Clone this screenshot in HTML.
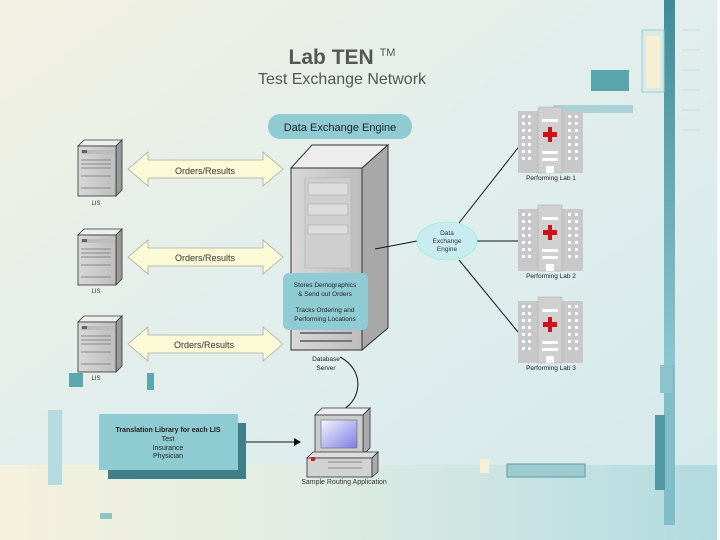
<!DOCTYPE html>
<html><head><style>
html,body{margin:0;padding:0;width:720px;height:540px;overflow:hidden;background:#fff}
svg{display:block}
text{font-family:"Liberation Sans",sans-serif}
</style></head><body>
<svg width="720" height="540" viewBox="0 0 720 540">
<defs>
<linearGradient id="bg" x1="0" y1="0" x2="1" y2="1">
<stop offset="0" stop-color="#f3f1e3"/><stop offset="0.45" stop-color="#e2eeec"/><stop offset="1" stop-color="#d4e9ec"/></linearGradient>
<linearGradient id="band" x1="0" y1="0" x2="1" y2="0">
<stop offset="0" stop-color="#f5f1dc"/><stop offset="0.4" stop-color="#e3ede4"/><stop offset="1" stop-color="#b3dbe0"/></linearGradient>
<linearGradient id="srv" x1="0" y1="0" x2="1" y2="0">
<stop offset="0" stop-color="#d8d8d8"/><stop offset="1" stop-color="#bdbdbd"/></linearGradient>
<linearGradient id="scr" x1="0" y1="0" x2="1" y2="1">
<stop offset="0" stop-color="#f4f4ff"/><stop offset="1" stop-color="#7c7ee0"/></linearGradient>
<linearGradient id="vbar" x1="0" y1="0" x2="0" y2="1">
<stop offset="0" stop-color="#3f8c98"/><stop offset="1" stop-color="#8cc7cf"/></linearGradient>
<g id="lis">
<polygon points="0,6 6,0 44,0 38,6" fill="#eee" stroke="#333" stroke-width="0.8"/>
<polygon points="38,6 44,0 44,50 38,56" fill="#999" stroke="#333" stroke-width="0.8"/>
<rect x="0" y="6" width="38" height="50" fill="url(#srv)" stroke="#333" stroke-width="0.8"/>
<rect x="3" y="10" width="32" height="4" fill="#bbb"/><rect x="4" y="10" width="5" height="3" fill="#665"/>
<line x1="3" y1="20" x2="33" y2="20" stroke="#888"/><line x1="3" y1="24" x2="33" y2="24" stroke="#888"/>
<line x1="3" y1="28" x2="33" y2="28" stroke="#888"/><line x1="3" y1="36" x2="33" y2="36" stroke="#888"/>
<line x1="3" y1="48" x2="33" y2="48" stroke="#888"/>
</g>
<g id="arr">
<polygon points="0,17 20,0 20,8 135,8 135,0 155,17 135,34 135,26 20,26 20,34" fill="#fafad6" stroke="#aaa" stroke-width="0.8"/>
</g>
<g id="lab">
<rect x="0" y="0" width="65" height="62" fill="#c8c8c8"/>
<rect x="20" y="-4" width="24" height="66" fill="#d0d0d0" stroke="#aaa" stroke-width="0.5"/>
<g fill="#fff">
<rect x="4" y="4" width="3" height="3"/><rect x="10" y="4" width="3" height="3"/><rect x="4" y="11" width="3" height="3"/><rect x="10" y="11" width="3" height="3"/><rect x="4" y="18" width="3" height="3"/><rect x="10" y="18" width="3" height="3"/><rect x="4" y="25" width="3" height="3"/><rect x="10" y="25" width="3" height="3"/><rect x="4" y="32" width="3" height="3"/><rect x="10" y="32" width="3" height="3"/><rect x="4" y="39" width="3" height="3"/><rect x="10" y="39" width="3" height="3"/><rect x="4" y="46" width="3" height="3"/><rect x="10" y="46" width="3" height="3"/>
<rect x="50" y="4" width="3" height="3"/><rect x="57" y="4" width="3" height="3"/><rect x="50" y="11" width="3" height="3"/><rect x="57" y="11" width="3" height="3"/><rect x="50" y="18" width="3" height="3"/><rect x="57" y="18" width="3" height="3"/><rect x="50" y="25" width="3" height="3"/><rect x="57" y="25" width="3" height="3"/><rect x="50" y="32" width="3" height="3"/><rect x="57" y="32" width="3" height="3"/><rect x="50" y="39" width="3" height="3"/><rect x="57" y="39" width="3" height="3"/><rect x="50" y="46" width="3" height="3"/><rect x="57" y="46" width="3" height="3"/>
<rect x="24" y="8" width="16" height="3"/><rect x="24" y="40" width="16" height="3"/><rect x="24" y="47" width="16" height="3"/>
<rect x="28" y="55" width="8" height="7"/></g>
<rect x="30" y="16" width="4" height="15" fill="#d0111a"/><rect x="25" y="21" width="14" height="5" fill="#d0111a"/>
</g>
</defs>
<rect width="720" height="540" fill="url(#bg)"/>
<rect x="0" y="465" width="717" height="75" fill="url(#band)"/>
<rect x="717" y="0" width="3" height="540" fill="#fff"/>
<rect x="664" y="0" width="11" height="365" fill="url(#vbar)"/>
<rect x="664" y="365" width="11" height="160" fill="#7fbec7"/>
<rect x="655" y="415" width="10" height="75" fill="#4f9aa5"/>
<rect x="660" y="365" width="12" height="28" fill="#8bc4cc"/>
<rect x="642" y="30" width="22" height="62" fill="#d9ebe8" stroke="#9cc" stroke-width="1"/>
<g fill="#f5f0d4"><rect x="646" y="36" width="14" height="52"/></g>
<rect x="591" y="70" width="38" height="21" fill="#5aa4ad"/>
<rect x="553" y="105" width="80" height="8" fill="#9cc9cf" opacity="0.8"/>
<g stroke="#c5dede" stroke-width="1"><line x1="682" y1="30" x2="700" y2="30"/><line x1="682" y1="50" x2="700" y2="50"/><line x1="682" y1="70" x2="700" y2="70"/><line x1="682" y1="90" x2="700" y2="90"/><line x1="682" y1="110" x2="700" y2="110"/><line x1="682" y1="130" x2="700" y2="130"/></g>
<rect x="507" y="464" width="78" height="13" fill="#9ccbd0" stroke="#5c9aa3"/>
<rect x="48" y="410" width="14" height="75" fill="#b5dadf"/>
<rect x="69" y="373" width="14" height="14" fill="#5aa7b0"/>
<rect x="147" y="373" width="7" height="17" fill="#5aa7b0"/>
<rect x="100" y="513" width="12" height="6" fill="#8fc3ca"/>
<rect x="480" y="459" width="9" height="14" fill="#f7f0d8"/>

<text x="342" y="64" font-size="21" font-weight="bold" fill="#555" text-anchor="middle">Lab TEN <tspan font-size="11" font-weight="normal" dy="-8">TM</tspan></text>
<text x="342" y="84" font-size="16" fill="#555" text-anchor="middle">Test Exchange Network</text>

<rect x="268" y="114" width="144" height="25" rx="12" fill="#8ecbd3"/>
<text x="340" y="131" font-size="11" fill="#222" text-anchor="middle">Data Exchange Engine</text>

<use href="#lis" x="78" y="140"/><text x="96" y="205" font-size="6" fill="#333" text-anchor="middle">LIS</text>
<use href="#lis" x="78" y="229"/><text x="96" y="293" font-size="6" fill="#333" text-anchor="middle">LIS</text>
<use href="#lis" x="78" y="316"/><text x="96" y="380" font-size="6" fill="#333" text-anchor="middle">LIS</text>

<use href="#arr" x="128" y="152"/><text x="205" y="174" font-size="9" fill="#333" text-anchor="middle">Orders/Results</text>
<use href="#arr" x="128" y="240"/><text x="205" y="261" font-size="9" fill="#333" text-anchor="middle">Orders/Results</text>
<use href="#arr" x="128" y="327"/><text x="204" y="348" font-size="9" fill="#333" text-anchor="middle">Orders/Results</text>

<polygon points="291,168 312,145 388,145 362,168" fill="#eee" stroke="#333"/>
<polygon points="362,168 388,145 388,328 362,350" fill="#a8a8a8" stroke="#333"/>
<rect x="291" y="168" width="71" height="182" fill="url(#srv)" stroke="#333"/>
<rect x="305" y="178" width="46" height="90" fill="#cfcfcf" stroke="#aaa" stroke-width="0.5"/>
<rect x="308" y="183" width="40" height="12" fill="#ddd" stroke="#999" stroke-width="0.5"/>
<rect x="308" y="204" width="40" height="11" fill="#ddd" stroke="#999" stroke-width="0.5"/>
<rect x="308" y="225" width="40" height="9" fill="#ddd" stroke="#999" stroke-width="0.5"/>
<line x1="300" y1="333" x2="352" y2="333" stroke="#777" stroke-width="2"/>
<line x1="300" y1="341" x2="352" y2="341" stroke="#777" stroke-width="2"/>
<rect x="283" y="273" width="85" height="57" rx="6" fill="#8ecbd3"/>
<g font-size="6.5" fill="#222" text-anchor="middle">
<text x="325" y="287">Stores Demographics</text><text x="325" y="296">&amp; Send out Orders</text>
<text x="325" y="312">Tracks Ordering and</text><text x="325" y="321">Performing Locations</text>
<text x="326" y="361">Database</text><text x="326" y="370">Server</text></g>

<g stroke="#111" stroke-width="1" fill="none">
<line x1="375" y1="249" x2="417" y2="241"/>
<line x1="459" y1="223" x2="521" y2="144"/>
<line x1="477" y1="241" x2="518" y2="241"/>
<line x1="459" y1="260" x2="518" y2="332"/>
<path d="M340,357 C365,370 362,400 342,410"/>
<line x1="238" y1="442" x2="296" y2="442"/>
</g>
<polygon points="294,438 301,442 294,446" fill="#111"/>
<ellipse cx="447" cy="241" rx="30" ry="19" fill="#c9ecf3" stroke="#7fb" stroke-width="0.6"/>
<g font-size="6.5" fill="#333" text-anchor="middle"><text x="447" y="235">Data</text><text x="447" y="243">Exchange</text><text x="447" y="251">Engine</text></g>

<use href="#lab" x="518" y="111"/><text x="551" y="180" font-size="6.5" fill="#222" text-anchor="middle">Performing Lab 1</text>
<use href="#lab" x="518" y="209"/><text x="551" y="278" font-size="6.5" fill="#222" text-anchor="middle">Performing Lab 2</text>
<use href="#lab" x="518" y="301"/><text x="551" y="370" font-size="6.5" fill="#222" text-anchor="middle">Performing Lab 3</text>

<rect x="108" y="423" width="138" height="56" fill="#3e7f89"/>
<rect x="99" y="414" width="139" height="56" fill="#8ecbd3"/>
<g font-size="7" fill="#222" text-anchor="middle"><text x="168" y="432" font-weight="bold">Translation Library for each LIS</text>
<text x="168" y="441">Test</text><text x="168" y="450">Insurance</text><text x="168" y="458">Physician</text></g>

<polygon points="315,415 322,408 370,408 363,415" fill="#eee" stroke="#333" stroke-width="0.8"/>
<polygon points="363,415 370,408 370,448 363,455" fill="#aaa" stroke="#333" stroke-width="0.8"/>
<rect x="315" y="415" width="48" height="40" fill="#ccc" stroke="#333" stroke-width="0.8"/>
<rect x="321" y="420" width="36" height="28" fill="url(#scr)" stroke="#666" stroke-width="0.6"/>
<polygon points="307,458 313,452 378,452 372,458" fill="#ddd" stroke="#333" stroke-width="0.8"/>
<rect x="307" y="458" width="65" height="19" fill="#d2d2d2" stroke="#333" stroke-width="0.8"/>
<polygon points="372,458 378,452 378,472 372,477" fill="#aaa" stroke="#333" stroke-width="0.8"/>
<rect x="311" y="457" width="4" height="4" fill="#c22"/>
<line x1="328" y1="462" x2="362" y2="462" stroke="#888"/><line x1="328" y1="468" x2="362" y2="468" stroke="#888"/>
<text x="344" y="484" font-size="7" fill="#333" text-anchor="middle">Sample Routing Application</text>
</svg>
</body></html>
